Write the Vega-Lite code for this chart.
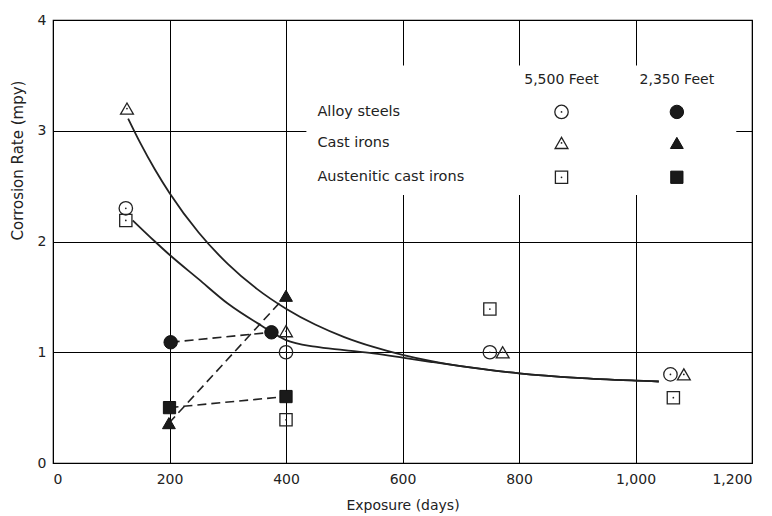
{
  "$schema": "https://vega.github.io/schema/vega-lite/v6.json",
  "width": 699,
  "height": 443,
  "autosize": {"type": "none"},
  "padding": {"left": 53, "top": 20, "right": 20, "bottom": 53},
  "background": "white",
  "config": {
    "font": "DejaVu Sans",
    "view": {"stroke": "black", "strokeWidth": 1.2},
    "axis": {
      "grid": true, "gridColor": "black", "gridOpacity": 1, "gridWidth": 1,
      "domain": false, "ticks": false,
      "labelFont": "DejaVu Sans", "labelFontSize": 14, "labelColor": "#222",
      "titleFont": "DejaVu Sans", "titleFontSize": 14, "titleFontWeight": "normal", "titleColor": "#222"
    }
  },
  "datasets": {
    "points": [
      {"days": 125, "rate": 2.3, "material": "Alloy steels", "depth": "5,500 Feet", "kind": "data"},
      {"days": 400, "rate": 1.0, "material": "Alloy steels", "depth": "5,500 Feet", "kind": "data"},
      {"days": 750, "rate": 1.0, "material": "Alloy steels", "depth": "5,500 Feet", "kind": "data"},
      {"days": 1060, "rate": 0.8, "material": "Alloy steels", "depth": "5,500 Feet", "kind": "data"},
      {"days": 127, "rate": 3.2, "material": "Cast irons", "depth": "5,500 Feet", "kind": "data"},
      {"days": 400, "rate": 1.19, "material": "Cast irons", "depth": "5,500 Feet", "kind": "data"},
      {"days": 772, "rate": 1.0, "material": "Cast irons", "depth": "5,500 Feet", "kind": "data"},
      {"days": 1083, "rate": 0.8, "material": "Cast irons", "depth": "5,500 Feet", "kind": "data"},
      {"days": 125, "rate": 2.19, "material": "Austenitic cast irons", "depth": "5,500 Feet", "kind": "data"},
      {"days": 400, "rate": 0.39, "material": "Austenitic cast irons", "depth": "5,500 Feet", "kind": "data"},
      {"days": 750, "rate": 1.39, "material": "Austenitic cast irons", "depth": "5,500 Feet", "kind": "data"},
      {"days": 1065, "rate": 0.59, "material": "Austenitic cast irons", "depth": "5,500 Feet", "kind": "data"},
      {"days": 202, "rate": 1.09, "material": "Alloy steels", "depth": "2,350 Feet", "kind": "data"},
      {"days": 375, "rate": 1.18, "material": "Alloy steels", "depth": "2,350 Feet", "kind": "data"},
      {"days": 199, "rate": 0.36, "material": "Cast irons", "depth": "2,350 Feet", "kind": "data"},
      {"days": 400, "rate": 1.51, "material": "Cast irons", "depth": "2,350 Feet", "kind": "data"},
      {"days": 200, "rate": 0.5, "material": "Austenitic cast irons", "depth": "2,350 Feet", "kind": "data"},
      {"days": 400, "rate": 0.6, "material": "Austenitic cast irons", "depth": "2,350 Feet", "kind": "data"},
      {"days": 873, "rate": 3.17, "material": "Alloy steels", "depth": "5,500 Feet", "kind": "key"},
      {"days": 873, "rate": 2.89, "material": "Cast irons", "depth": "5,500 Feet", "kind": "key"},
      {"days": 873, "rate": 2.58, "material": "Austenitic cast irons", "depth": "5,500 Feet", "kind": "key"},
      {"days": 1071, "rate": 3.17, "material": "Alloy steels", "depth": "2,350 Feet", "kind": "key"},
      {"days": 1071, "rate": 2.89, "material": "Cast irons", "depth": "2,350 Feet", "kind": "key"},
      {"days": 1071, "rate": 2.58, "material": "Austenitic cast irons", "depth": "2,350 Feet", "kind": "key"}
    ],
    "curves": [
      {"days": 129, "rate": 3.11, "curve": "upper"},
      {"days": 150, "rate": 2.888, "curve": "upper"},
      {"days": 175, "rate": 2.65, "curve": "upper"},
      {"days": 200, "rate": 2.438, "curve": "upper"},
      {"days": 250, "rate": 2.081, "curve": "upper"},
      {"days": 300, "rate": 1.798, "curve": "upper"},
      {"days": 350, "rate": 1.572, "curve": "upper"},
      {"days": 400, "rate": 1.393, "curve": "upper"},
      {"days": 450, "rate": 1.25, "curve": "upper"},
      {"days": 500, "rate": 1.137, "curve": "upper"},
      {"days": 550, "rate": 1.048, "curve": "upper"},
      {"days": 600, "rate": 0.976, "curve": "upper"},
      {"days": 650, "rate": 0.919, "curve": "upper"},
      {"days": 700, "rate": 0.874, "curve": "upper"},
      {"days": 800, "rate": 0.81, "curve": "upper"},
      {"days": 900, "rate": 0.769, "curve": "upper"},
      {"days": 1000, "rate": 0.744, "curve": "upper"},
      {"days": 1040, "rate": 0.736, "curve": "upper"},
      {"days": 137, "rate": 2.19, "curve": "lower"},
      {"days": 175, "rate": 2.0, "curve": "lower"},
      {"days": 200, "rate": 1.88, "curve": "lower"},
      {"days": 250, "rate": 1.66, "curve": "lower"},
      {"days": 300, "rate": 1.44, "curve": "lower"},
      {"days": 358, "rate": 1.24, "curve": "lower"},
      {"days": 400, "rate": 1.11, "curve": "lower"},
      {"days": 450, "rate": 1.05, "curve": "lower"},
      {"days": 500, "rate": 1.02, "curve": "lower"},
      {"days": 550, "rate": 0.99, "curve": "lower"},
      {"days": 600, "rate": 0.952, "curve": "lower"},
      {"days": 650, "rate": 0.912, "curve": "lower"},
      {"days": 700, "rate": 0.874, "curve": "lower"},
      {"days": 800, "rate": 0.81, "curve": "lower"},
      {"days": 900, "rate": 0.769, "curve": "lower"},
      {"days": 1000, "rate": 0.744, "curve": "lower"},
      {"days": 1040, "rate": 0.736, "curve": "lower"}
    ],
    "keybox": [{"x1": 435, "x2": 1173, "y1": 2.42, "y2": 3.59}],
    "keyhead": [
      {"days": 873, "rate": 3.46, "label": "5,500 Feet"},
      {"days": 1071, "rate": 3.46, "label": "2,350 Feet"}
    ],
    "keyrows": [
      {"days": 454, "rate": 3.17, "label": "Alloy steels"},
      {"days": 454, "rate": 2.89, "label": "Cast irons"},
      {"days": 454, "rate": 2.58, "label": "Austenitic cast irons"}
    ]
  },
  "encoding": {
    "x": {"type": "quantitative", "scale": {"domain": [0, 1200], "nice": false},
      "axis": {"values": [0, 200, 400, 600, 800, 1000, 1200], "format": ",d", "labelPadding": 9, "titlePadding": 12, "title": "Exposure (days)"}},
    "y": {"type": "quantitative", "scale": {"domain": [0, 4], "nice": false},
      "axis": {"values": [0, 1, 2, 3, 4], "labelPadding": 7, "titlePadding": 12, "titleFontSize": 15, "titleY": 140, "title": "Corrosion Rate (mpy)"}}
  },
  "layer": [
    {
      "data": {"name": "keybox"},
      "mark": {"type": "rect", "fill": "white", "stroke": null},
      "encoding": {
        "x": {"field": "x1", "type": "quantitative"},
        "x2": {"field": "x2"},
        "y": {"field": "y1", "type": "quantitative"},
        "y2": {"field": "y2"}
      }
    },
    {
      "data": {"name": "curves"},
      "mark": {"type": "line", "interpolate": "monotone", "color": "#222", "strokeWidth": 1.8},
      "encoding": {
        "x": {"field": "days", "type": "quantitative"},
        "y": {"field": "rate", "type": "quantitative"},
        "detail": {"field": "curve"}
      }
    },
    {
      "data": {"name": "points"},
      "transform": [{"filter": "datum.kind == 'data' && datum.depth == '2,350 Feet'"}],
      "mark": {"type": "line", "color": "#222", "strokeWidth": 1.6, "strokeDash": [9, 5]},
      "encoding": {
        "x": {"field": "days", "type": "quantitative"},
        "y": {"field": "rate", "type": "quantitative"},
        "detail": {"field": "material"}
      }
    },
    {
      "data": {"name": "points"},
      "transform": [{"filter": "datum.depth == '5,500 Feet'"}],
      "mark": {"type": "point", "filled": false, "stroke": "#222", "strokeWidth": 1.3, "opacity": 1},
      "encoding": {
        "x": {"field": "days", "type": "quantitative"},
        "y": {"field": "rate", "type": "quantitative"},
        "shape": {"field": "material", "type": "nominal", "legend": null,
          "scale": {"domain": ["Alloy steels", "Cast irons", "Austenitic cast irons"], "range": ["circle", "triangle-up", "square"]}},
        "size": {"field": "material", "type": "nominal", "legend": null,
          "scale": {"domain": ["Alloy steels", "Cast irons", "Austenitic cast irons"], "range": [180, 150, 110]}}
      }
    },
    {
      "data": {"name": "points"},
      "transform": [{"filter": "datum.depth == '5,500 Feet'"}],
      "mark": {"type": "point", "filled": true, "shape": "circle", "size": 3, "color": "#222", "opacity": 1},
      "encoding": {
        "x": {"field": "days", "type": "quantitative"},
        "y": {"field": "rate", "type": "quantitative"}
      }
    },
    {
      "data": {"name": "points"},
      "transform": [{"filter": "datum.depth == '2,350 Feet'"}],
      "mark": {"type": "point", "filled": true, "color": "#1a1a1a", "stroke": "#111", "strokeWidth": 1, "opacity": 1},
      "encoding": {
        "x": {"field": "days", "type": "quantitative"},
        "y": {"field": "rate", "type": "quantitative"},
        "shape": {"field": "material", "type": "nominal", "legend": null,
          "scale": {"domain": ["Alloy steels", "Cast irons", "Austenitic cast irons"], "range": ["circle", "triangle-up", "square"]}},
        "size": {"field": "material", "type": "nominal", "legend": null,
          "scale": {"domain": ["Alloy steels", "Cast irons", "Austenitic cast irons"], "range": [200, 150, 120]}}
      }
    },
    {
      "data": {"name": "keyhead"},
      "mark": {"type": "text", "fontSize": 14, "color": "#222", "baseline": "middle", "align": "center", "font": "DejaVu Sans"},
      "encoding": {
        "x": {"field": "days", "type": "quantitative"},
        "y": {"field": "rate", "type": "quantitative"},
        "text": {"field": "label"}
      }
    },
    {
      "data": {"name": "keyrows"},
      "mark": {"type": "text", "fontSize": 14.5, "color": "#222", "baseline": "middle", "align": "left", "font": "DejaVu Sans"},
      "encoding": {
        "x": {"field": "days", "type": "quantitative"},
        "y": {"field": "rate", "type": "quantitative"},
        "text": {"field": "label"}
      }
    }
  ]
}
